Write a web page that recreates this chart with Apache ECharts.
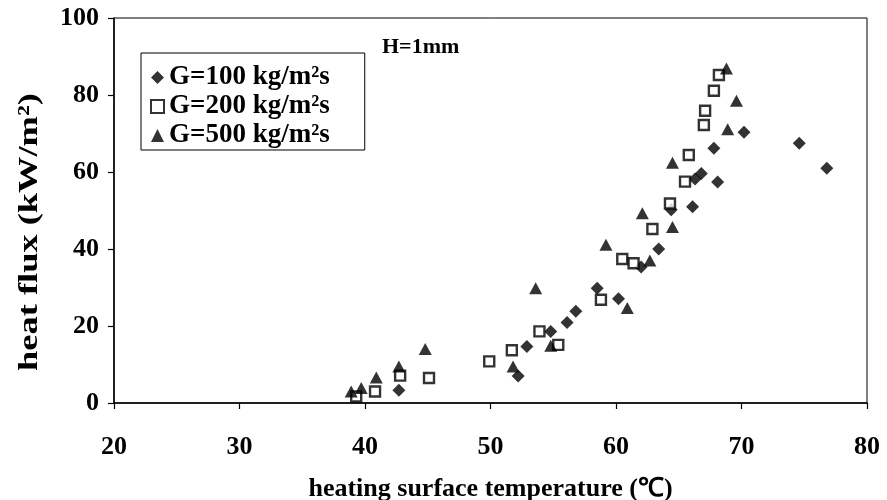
<!DOCTYPE html>
<html>
<head>
<meta charset="utf-8">
<script src="https://cdn.jsdelivr.net/npm/echarts@6/dist/echarts.min.js"></script>
<style>
  html, body { margin: 0; padding: 0; background: #fff; }
  #chart { width: 887px; height: 500px; }
</style>
</head>
<body>
<div id="chart"></div>
<script>
// Boiling curve: heat flux vs. heating surface temperature, three mass fluxes
const seriesNames = ['G=100 kg/m²s', 'G=200 kg/m²s', 'G=500 kg/m²s'];

// [surface temperature (°C), heat flux (kW/m²)]
const g100 = [
  [42.7, 3.3], [52.2, 7.0], [52.9, 14.7], [54.8, 18.6], [56.1, 20.9],
  [56.8, 23.8], [58.5, 29.8], [60.2, 27.1], [62.0, 35.3], [63.4, 40.0],
  [64.4, 50.2], [66.1, 51.0], [66.3, 58.2], [66.8, 59.6], [67.8, 66.2],
  [68.1, 57.4], [70.2, 70.3], [74.6, 67.5], [76.8, 61.0]
];
const g200 = [
  [39.3, 1.7], [40.8, 3.0], [42.8, 7.1], [45.1, 6.5], [49.9, 10.8],
  [51.7, 13.7], [53.9, 18.6], [55.4, 15.1], [58.8, 26.8], [60.5, 37.4],
  [61.4, 36.3], [62.9, 45.2], [64.3, 51.8], [65.5, 57.5], [65.8, 64.4],
  [67.0, 72.2], [67.1, 75.9], [67.8, 81.1], [68.2, 85.2]
];
const g500 = [
  [38.9, 3.0], [39.7, 3.9], [40.9, 6.6], [42.7, 9.5], [44.8, 14.0],
  [51.8, 9.5], [53.6, 29.8], [54.8, 14.9], [59.2, 41.1], [60.9, 24.7],
  [62.1, 49.3], [62.7, 37.0], [64.5, 45.7], [64.5, 62.4], [68.8, 86.9],
  [69.6, 78.5], [68.9, 71.1]
];

const xTicks = { min: 20, max: 80, step: 10 };
const yTicks = { min: 0, max: 100, step: 20 };

const xTitle = 'heating surface temperature (℃)';
const yTitle = 'heat flux (kW/m²)';
const note = 'H=1mm';

const FONT = '"Liberation Serif", "Times New Roman", serif';
const INK = '#000';

const chart = echarts.init(document.getElementById('chart'), null, { renderer: 'canvas' });

chart.setOption({
  backgroundColor: '#fff',
  animation: false,
  grid: {
    left: 114, right: 20, top: 18, bottom: 97,
    containLabel: false,
    outerBoundsMode: 'none',
    show: true, borderColor: INK, borderWidth: 1
  },
  xAxis: {
    type: 'value',
    min: xTicks.min, max: xTicks.max, interval: xTicks.step,
    name: xTitle,
    nameLocation: 'middle', nameGap: 73,
    nameTextStyle: { fontFamily: FONT, fontWeight: 'bold', fontSize: 26, color: INK },
    axisLine: { lineStyle: { color: INK, width: 1.5 } },
    axisTick: { inside: false, length: 6, lineStyle: { color: INK, width: 1.2 } },
    axisLabel: { margin: 31, fontFamily: FONT, fontWeight: 'bold', fontSize: 26, color: INK },
    splitLine: { show: false }
  },
  yAxis: {
    type: 'value',
    min: yTicks.min, max: yTicks.max, interval: yTicks.step,
    axisLine: { show: true, lineStyle: { color: INK, width: 1.5 } },
    axisTick: { show: true, inside: false, length: 6, lineStyle: { color: INK, width: 1.2 } },
    axisLabel: { margin: 15, fontFamily: FONT, fontWeight: 'bold', fontSize: 26, color: INK },
    splitLine: { show: false }
  },
  legend: {
    orient: 'vertical',
    left: 141, top: 53,
    padding: [11, 35, 1, 9],
    itemGap: 2,
    itemWidth: 13, itemHeight: 13,
    backgroundColor: '#fff',
    borderColor: INK, borderWidth: 1,
    textStyle: { fontFamily: FONT, fontWeight: 'bold', fontSize: 27, color: INK },
    data: seriesNames
  },
  graphic: [
    {
      type: 'text', left: 382, top: 36,
      style: { text: note, fontFamily: FONT, fontWeight: 'bold', fontSize: 22, fill: INK }
    },
    {
      // vertical axis title, drawn as free text so it can be stretched along its length
      type: 'text', x: 30, y: 232, rotation: Math.PI / 2, scaleX: 1.3,
      style: {
        text: yTitle, fontFamily: FONT, fontWeight: 'bold', fontSize: 28, fill: INK,
        align: 'center', verticalAlign: 'middle'
      }
    }
  ],
  series: [
    {
      name: seriesNames[0], type: 'scatter', data: g100,
      symbol: 'diamond', symbolSize: 13,
      itemStyle: { color: INK }
    },
    {
      name: seriesNames[1], type: 'scatter', data: g200,
      symbol: 'rect', symbolSize: 10,
      itemStyle: { color: '#fff', borderColor: INK, borderWidth: 2.4 }
    },
    {
      name: seriesNames[2], type: 'scatter', data: g500,
      symbol: 'triangle', symbolSize: [13, 12],
      itemStyle: { color: INK }
    }
  ]
});
</script>
</body>
</html>
